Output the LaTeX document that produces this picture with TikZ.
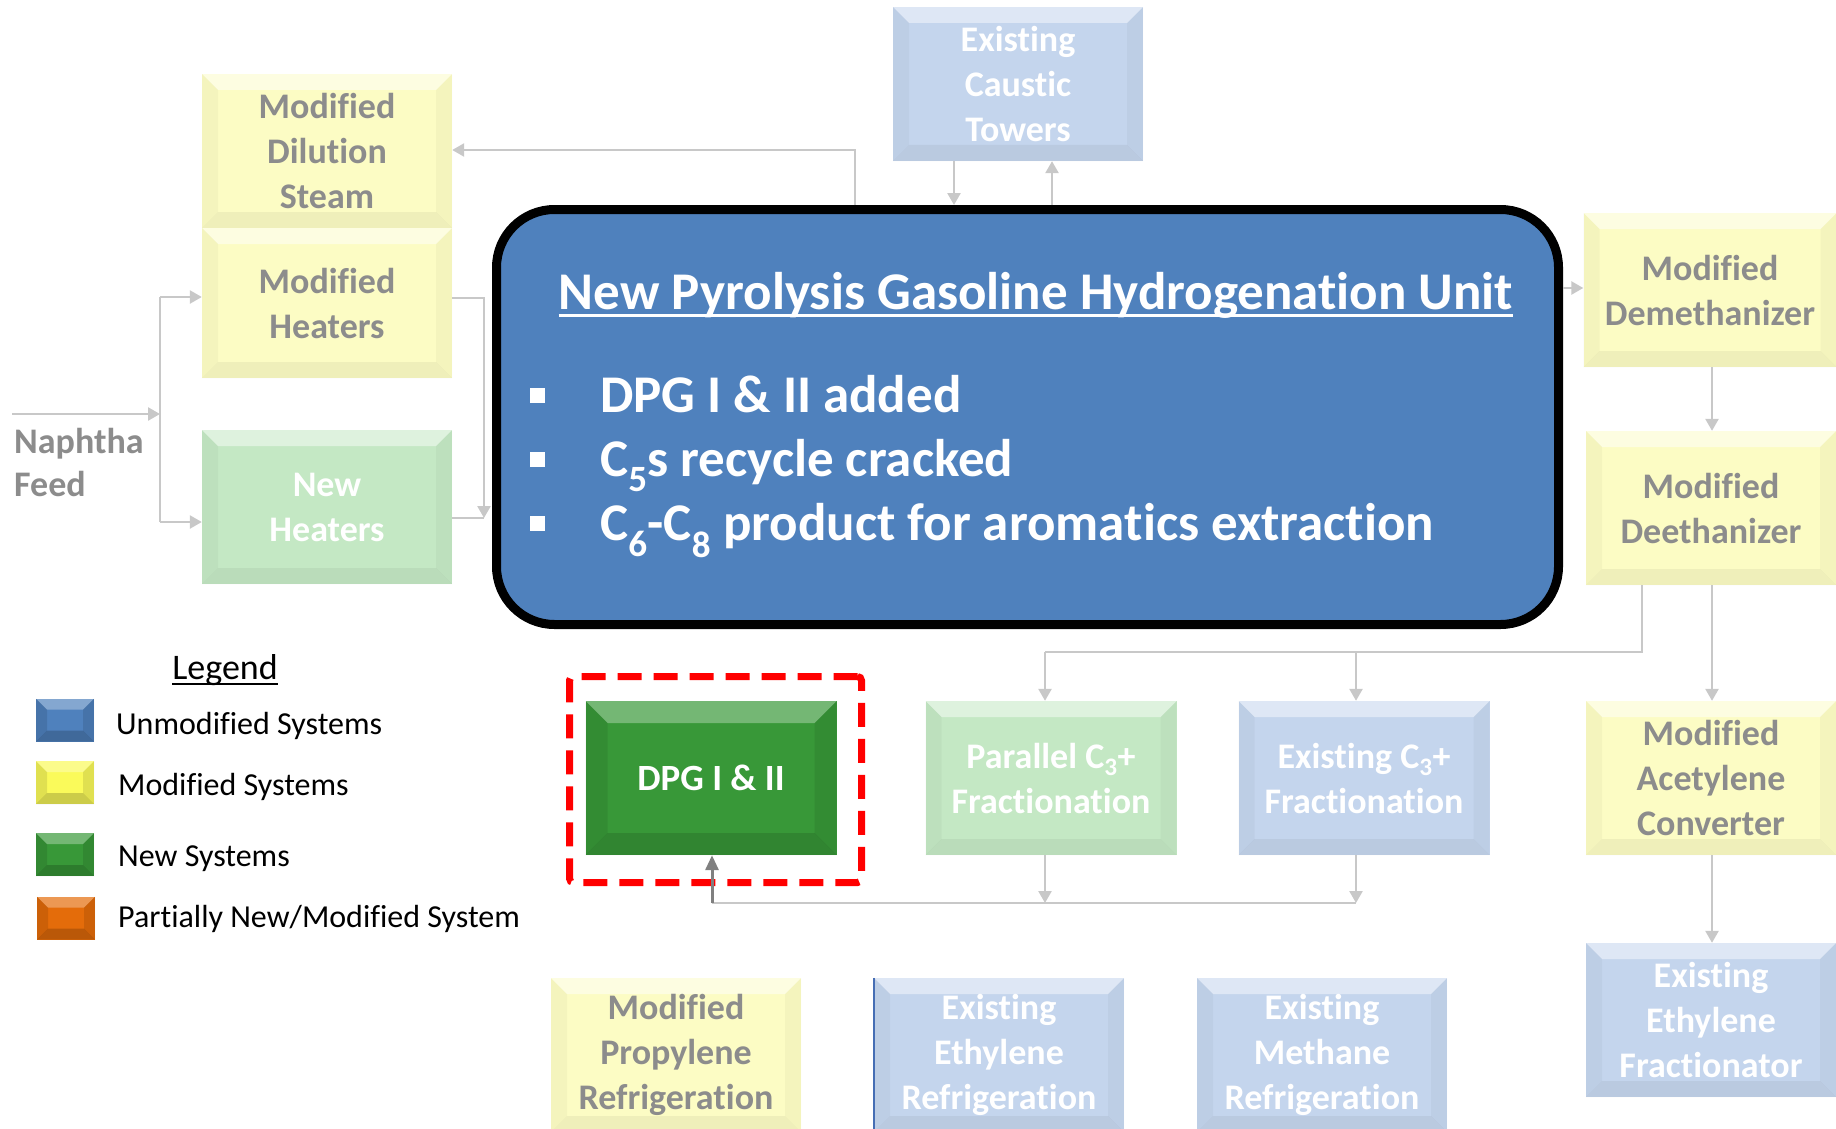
\documentclass[tikz,border=0pt]{standalone}
\usepackage{fontspec}
\setmainfont{Carlito}[Ligatures={NoCommon}]
\usetikzlibrary{arrows.meta}
\definecolor{mainblue}{RGB}{79,129,189}
\definecolor{paley}{RGB}{252,252,196}
\definecolor{paleb}{RGB}{196,213,237}
\definecolor{paleg}{RGB}{196,232,196}
\definecolor{ytext}{RGB}{140,140,140}
\definecolor{connc}{RGB}{200,200,200}
\definecolor{dpgg}{RGB}{56,152,56}
\definecolor{lblue}{RGB}{79,129,189}
\definecolor{lyel}{RGB}{250,250,90}
\definecolor{lgreen}{RGB}{56,152,56}
\definecolor{lorange}{RGB}{228,108,10}
\definecolor{edgeblue}{RGB}{70,110,180}
\tikzset{
 bev/.style n args={4}{path picture={
  \fill[white,opacity=#2] (path picture bounding box.north west) -- (path picture bounding box.north east)
     -- ([xshift=-#1,yshift=-#1]path picture bounding box.north east) -- ([xshift=#1,yshift=-#1]path picture bounding box.north west) -- cycle;
  \fill[black,opacity=#4] (path picture bounding box.south west) -- (path picture bounding box.south east)
     -- ([xshift=-#1,yshift=#1]path picture bounding box.south east) -- ([xshift=#1,yshift=#1]path picture bounding box.south west) -- cycle;
  \fill[black,opacity=#3] (path picture bounding box.north west) -- ([xshift=#1,yshift=-#1]path picture bounding box.north west)
     -- ([xshift=#1,yshift=#1]path picture bounding box.south west) -- (path picture bounding box.south west) -- cycle;
  \fill[black,opacity=#3] (path picture bounding box.north east) -- ([xshift=-#1,yshift=-#1]path picture bounding box.north east)
     -- ([xshift=-#1,yshift=#1]path picture bounding box.south east) -- (path picture bounding box.south east) -- cycle;
 }},
 sys/.style={rectangle, minimum width=250pt, minimum height=154pt, inner sep=2pt, align=center,
   font=\fontsize{36}{45}\selectfont\bfseries},
 modsys/.style={sys, fill=paley, text=ytext, bev={16pt}{0.5}{0.03}{0.05}},
 exsys/.style={sys, fill=paleb, text=white, bev={16pt}{0.45}{0.03}{0.05}},
 newsys/.style={sys, fill=paleg, text=white, bev={16pt}{0.45}{0.03}{0.05}},
 conn/.style={draw=connc, line width=2.5pt, -{Triangle[width=13pt,length=12pt]}},
 connl/.style={draw=connc, line width=2.5pt},
 dpgarrow/.style={draw={rgb,255:red,128;green,128;blue,128}, line width=3pt, -{Triangle[width=13pt,length=15pt]}},
 swatch/.style={rectangle, minimum width=58pt, minimum height=43pt, inner sep=0pt, bev={11pt}{0.3}{0.1}{0.18}},
 legtext/.style={anchor=base west, inner sep=0pt, font=\fontsize{32}{38}\selectfont},
 bultext/.style={anchor=base west, inner sep=0pt, text=white, font=\fontsize{53}{62}\selectfont\bfseries},
 bulsq/.style={fill=white, minimum size=15pt, inner sep=0pt},
}
\begin{document}
\begin{tikzpicture}[x=1pt,y=-1pt]
\clip (0,0) rectangle (1836,1129);
\fill[white] (0,0) rectangle (1836,1129);

% ---- system boxes ----
\node[modsys] (dil) at (327,151) {Modified\\Dilution\\Steam};
\node[modsys, minimum height=150pt] (mheat) at (327,303) {Modified\\Heaters};
\node[newsys] (nheat) at (327,507) {New\\Heaters};
\node[exsys] (caustic) at (1018,84) {Existing\\Caustic\\Towers};
\node[modsys, minimum width=253pt] (demeth) at (1710,290) {Modified\\Demethanizer};
\node[modsys] (deeth) at (1711,508) {Modified\\Deethanizer};
\node[modsys] (acet) at (1711,778) {Modified\\Acetylene\\Converter};
\node[exsys] (ethfrac) at (1711,1020) {Existing\\Ethylene\\Fractionator};
\node[sys, fill=dpgg, text=white, bev={22pt}{0.3}{0.08}{0.12}, minimum width=251pt, font=\fontsize{37}{45}\selectfont\bfseries] (dpg) at (711,778) {DPG I \& II};
\node[newsys, minimum width=251pt] (par) at (1051,778) {Parallel C\textsubscript{3}+\\Fractionation};
\node[exsys, minimum width=251pt] (exc3) at (1364,778) {Existing C\textsubscript{3}+\\Fractionation};
\node[modsys] (prop) at (676,1055) {Modified\\Propylene\\Refrigeration};
\node[exsys] (ethref) at (999,1055) {Existing\\Ethylene\\Refrigeration};
\draw[edgeblue, line width=2pt] (ethref.north west) -- (ethref.south west);
\node[exsys] (methref) at (1322,1055) {Existing\\Methane\\Refrigeration};

% ---- naphtha feed ----
\node[anchor=north west, align=left, inner sep=0pt, text=ytext, font=\fontsize{36}{43}\selectfont\bfseries] (naph) at (14,428) {Naphtha\\Feed};

% ---- main box ----
\node[draw=black, line width=9pt, fill=mainblue, rounded corners=58pt, minimum width=1062pt, minimum height=415pt, inner sep=0pt] (main) at (1027.5,417) {};
\node[anchor=base, inner sep=0pt, text=white, font=\fontsize{53}{62}\selectfont\bfseries] (title) at (1036,309) {New Pyrolysis Gasoline Hydrogenation Unit};
\draw[white, line width=3pt] ([yshift=-6pt]title.base west) -- ([yshift=-6pt]title.base east);
\node[bulsq] (b1) at (537,395) {};
\node[bulsq] (b2) at (537,459) {};
\node[bulsq] (b3) at (537,523) {};
\node[bultext] (t1) at (600,412) {DPG I \& II added};
\node[bultext] (t2) at (600,476) {C\textsubscript{5}s recycle cracked};
\node[bultext] (t3) at (600,540) {C\textsubscript{6}-C\textsubscript{8} product for aromatics extraction};

% ---- connectors ----
\coordinate (feed) at (12,414);
\coordinate (jn) at (160,414);
\coordinate (jt) at (160,297);
\coordinate (jb) at (160,522);
\draw[conn] (feed) -- (jn);
\draw[connl] (jt) -- (jb);
\draw[conn] (jt) -- (mheat.west |- jt);
\draw[conn] (jb) -- (nheat.west |- jb);

\coordinate (m1) at (484,298);
\coordinate (m2) at (484,518);
\draw[conn] (mheat.east |- m1) -- (m1) -- (m2);
\draw[connl] (nheat.east |- m2) -- (m2);

\coordinate (d1) at (855,150);
\draw[conn] (main.north -| d1) -- (d1) -- (dil.east |- d1);

\coordinate (c1) at (954,0);
\coordinate (c2) at (1052,0);
\draw[conn] (caustic.south -| c1) -- (main.north -| c1);
\draw[conn] (main.north -| c2) -- (caustic.south -| c2);

\coordinate (e1) at (0,288);
\draw[conn] (main.east |- e1) -- (demeth.west |- e1);

\coordinate (v) at (1712,0);
\draw[conn] (demeth.south -| v) -- (deeth.north -| v);
\draw[conn] (deeth.south -| v) -- (acet.north -| v);
\draw[conn] (acet.south -| v) -- (ethfrac.north -| v);

\coordinate (br) at (1642,652);
\coordinate (p1) at (1045,652);
\coordinate (p2) at (1356,652);
\draw[connl] (deeth.south -| br) -- (br) -- (p1);
\draw[conn] (p1) -- (par.north -| p1);
\draw[conn] (p2) -- (exc3.north -| p2);

\coordinate (q0) at (712,903);
\coordinate (q1) at (1045,903);
\coordinate (q2) at (1356,903);
\draw[conn] (par.south -| q1) -- (q1);
\draw[conn] (exc3.south -| q2) -- (q2);
\draw[connl] (q0) -- (q2);

% ---- highlight ----
\node[draw=red, line width=7pt, dash pattern=on 24pt off 12pt, rounded corners=4pt, minimum width=292pt, minimum height=206pt, inner sep=0pt] (sel) at (715.5,779.5) {};
\draw[dpgarrow] (q0) -- (dpg.south -| q0);

% ---- legend ----
\node[anchor=base, inner sep=0pt, font=\fontsize{36}{43}\selectfont] (legt) at (225,679) {Legend};
\draw[black, line width=2.5pt] ([yshift=-5pt]legt.base west) -- ([yshift=-5pt]legt.base east);
\node[swatch, fill=lblue] (sw1) at (65,720) {};
\node[swatch, fill=lyel] (sw2) at (65,782.5) {};
\node[swatch, fill=lgreen] (sw3) at (65,854.5) {};
\node[swatch, fill=lorange] (sw4) at (66,918) {};
\node[legtext] (l1) at (116,734) {Unmodified Systems};
\node[legtext] (l2) at (118,795) {Modified Systems};
\node[legtext] (l3) at (118,866) {New Systems};
\node[legtext] (l4) at (118,927) {Partially New/Modified System};
\end{tikzpicture}
\end{document}
